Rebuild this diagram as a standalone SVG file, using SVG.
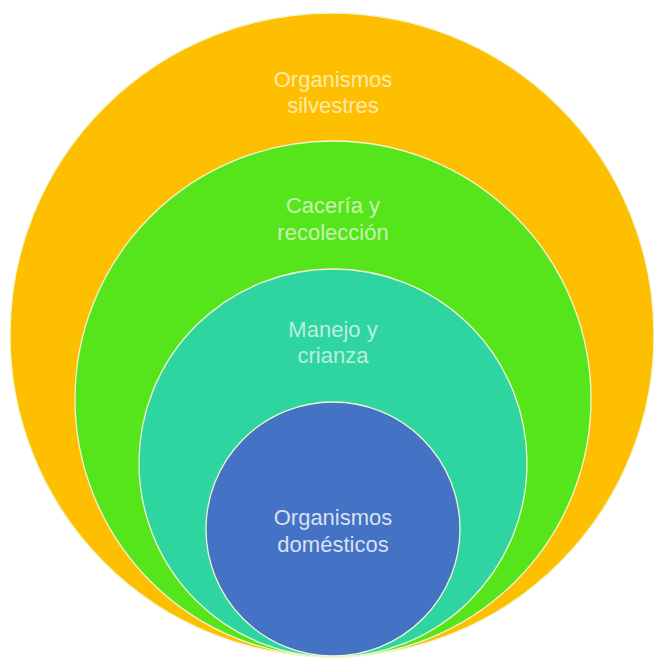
<svg xmlns="http://www.w3.org/2000/svg" width="654" height="658" viewBox="0 0 654 658">
<style>
.ring{stroke:#eef6d2;stroke-width:1.3}
.lbl{font-family:"Liberation Sans",Arial,sans-serif;font-size:22px;fill:#ffffff;fill-opacity:0.68;text-anchor:middle}
</style>
<rect x="0" y="0" width="654" height="658" fill="#ffffff"/>
<g id="silvestres">
<circle class="ring" cx="332" cy="335" r="322" fill="#FEBF00"/>
<text class="lbl" x="333" y="87">Organismos</text>
<text class="lbl" x="333" y="113">silvestres</text>
</g>
<g id="caceria">
<circle class="ring" cx="333" cy="399" r="258" fill="#55E51A"/>
<text class="lbl" x="333" y="213">Cacería y</text>
<text class="lbl" x="333" y="240">recolección</text>
</g>
<g id="manejo">
<circle class="ring" cx="333" cy="463" r="194" fill="#2ED5A0"/>
<text class="lbl" x="333" y="337">Manejo y</text>
<text class="lbl" x="333" y="363">crianza</text>
</g>
<g id="domesticos">
<circle class="ring" cx="333" cy="529" r="127" fill="#4472C4"/>
<text class="lbl" x="333" y="525" style="fill-opacity:0.8">Organismos</text>
<text class="lbl" x="333" y="552" style="fill-opacity:0.8">domésticos</text>
</g>
<g id="connectors"/>
</svg>
